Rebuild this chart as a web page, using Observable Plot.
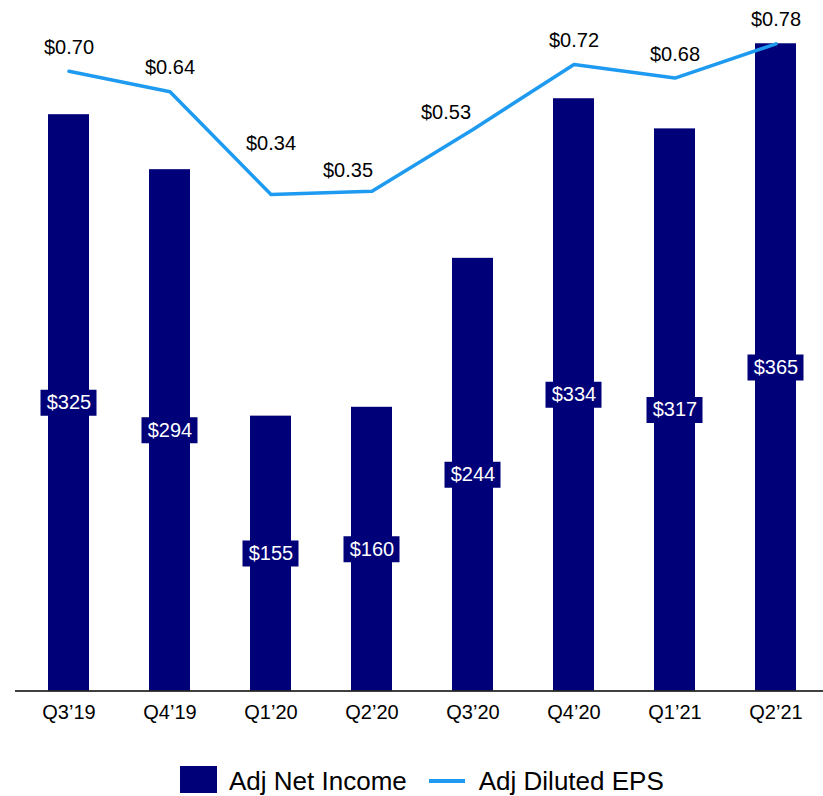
<!DOCTYPE html>
<html><head><meta charset="utf-8">
<script src="https://cdn.jsdelivr.net/npm/d3@7"></script>
<script src="https://cdn.jsdelivr.net/npm/@observablehq/plot@0.6"></script>
<style>
body{margin:0;background:#fff;font-family:Arial,"Liberation Sans",sans-serif;}
#chart{width:823px;}
#chart svg{display:block;}
.legend{display:flex;align-items:center;height:56px;box-sizing:border-box;padding-top:26px;align-items:flex-start;padding-left:180px;font-size:26px;color:#000;}
.sw-bar{width:37px;height:27px;background:#000078;margin-right:12px;}
.sw-line{width:36px;height:4px;background:#1E9BF0;margin:13px 14px 0 22px;}
.legend span{line-height:30px;}
</style></head><body><div id="chart"></div>
<script>
const quarters = ["Q3’19","Q4’19","Q1’20","Q2’20","Q3’20","Q4’20","Q1’21","Q2’21"];
const netIncome = [325, 294, 155, 160, 244, 334, 317, 365];
const dilutedEps = [0.70, 0.64, 0.34, 0.35, 0.53, 0.72, 0.68, 0.78];

const data = quarters.map((q, i) => ({q, income: netIncome[i], eps: dilutedEps[i]}));
const NAVY = "#000078", BLUE = "#1E9BF0";
// secondary (EPS) axis mapped onto the income axis
const epsToY = d3.scaleLinear([-1.1095, 0.9066], [0, 389.4]);
const normal = data.filter(d => !["Q1’20","Q2’20","Q3’20"].includes(d.q));
const FONT = "Arial, 'Liberation Sans', sans-serif";

const plot = Plot.plot({
  width: 823, height: 740,
  marginLeft: 15, marginRight: 0, marginTop: 0, marginBottom: 49.5,
  style: {fontFamily: FONT, background: "#fff", color: "#000"},
  x: {type: "band", domain: quarters, range: [14.6, 829.4], paddingInner: 0.5975, paddingOuter: 0.3, label: null},
  y: {domain: [0, 389.4], range: [690.5, 0], axis: null},
  marks: [
    Plot.barY(data, {x: "q", y: "income", fill: NAVY}),
    Plot.tickY(data, {x: "q", y: d => d.income / 2, stroke: NAVY, strokeWidth: 26, insetLeft: -7.5, insetRight: -7.5}),
    Plot.text(data, {x: "q", y: d => d.income / 2, text: d => "$" + d.income, fill: "#fff", fontSize: 20}),
    Plot.ruleY([0], {stroke: "#000", strokeWidth: 1.6}),
    Plot.line(data, {x: "q", y: d => epsToY(d.eps), stroke: BLUE, strokeWidth: 3.5}),
    Plot.text(normal, {x: "q", y: d => epsToY(d.eps), text: d => "$" + d.eps.toFixed(2), dy: -24, fontSize: 20, fill: "#000"}),
    Plot.text(data.filter(d => d.q === "Q1’20"), {x: "q", y: d => epsToY(d.eps), text: d => "$" + d.eps.toFixed(2), dy: -51, fontSize: 20, fill: "#000"}),
    Plot.text(data.filter(d => d.q === "Q2’20"), {x: "q", y: d => epsToY(d.eps), text: d => "$" + d.eps.toFixed(2), dx: -24, dy: -21, fontSize: 20, fill: "#000"}),
    Plot.text(data.filter(d => d.q === "Q3’20"), {x: "q", y: d => epsToY(d.eps), text: d => "$" + d.eps.toFixed(2), dx: -27, dy: -17, fontSize: 20, fill: "#000"}),
    Plot.axisX({tickSize: 0, tickPadding: 14, fontSize: 20, label: null})
  ]
});
const chart = document.getElementById("chart");
chart.appendChild(plot);
const legend = document.createElement("div");
legend.className = "legend";
legend.innerHTML = '<div class="sw-bar"></div><span>Adj Net Income</span><div class="sw-line"></div><span>Adj Diluted EPS</span>';
chart.appendChild(legend);
</script></body></html>
